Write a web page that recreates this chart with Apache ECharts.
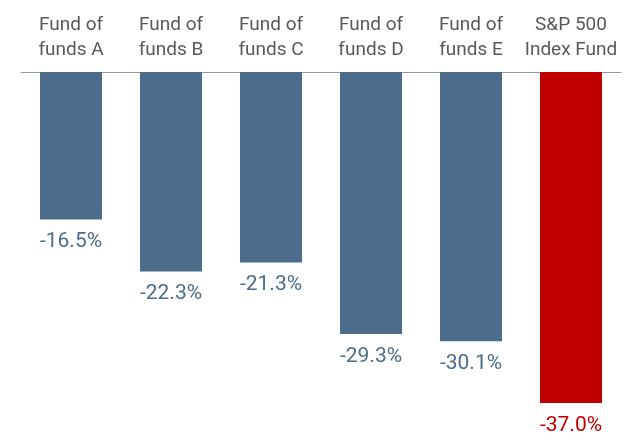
<!DOCTYPE html>
<html><head><meta charset="utf-8">
<script src="https://cdn.jsdelivr.net/npm/echarts@6/dist/echarts.min.js"></script>
<style>html,body{margin:0;padding:0;background:#fff}#c{width:640px;height:448px}</style>
</head><body><div id="c"></div>
<script>
var categories = ['Fund of\nfunds A','Fund of\nfunds B','Fund of\nfunds C','Fund of\nfunds D','Fund of\nfunds E','S&P 500\nIndex Fund'];
var values = [-16.5, -22.3, -21.3, -29.3, -30.1, -37.0];
var barColors = ['#4b6d8b','#4b6d8b','#4b6d8b','#4b6d8b','#4b6d8b','#c00000'];

var chart = echarts.init(document.getElementById('c'));
chart.setOption({
  animation: false,
  grid: {left: 21, right: 19, top: 72, bottom: 45},
  xAxis: {
    type: 'category', position: 'top', data: categories,
    axisLine: {lineStyle: {color: '#999999', width: 1}},
    axisTick: {show: false},
    axisLabel: {color: '#595959', fontSize: 19, fontFamily: 'Roboto', lineHeight: 25, margin: 9, interval: 0}
  },
  yAxis: {type: 'value', min: -37, max: 0, show: false, splitLine: {show: false}},
  series: [{
    type: 'bar', barWidth: '62%',
    data: values.map(function(v, i){
      return {value: v, itemStyle: {color: barColors[i]}, label: {color: barColors[i]}};
    }),
    label: {show: true, position: 'bottom', distance: 12, fontSize: 21, fontFamily: 'Roboto',
      formatter: function(p){ return p.value.toFixed(1) + '%'; }}
  }]
});
</script></body></html>
